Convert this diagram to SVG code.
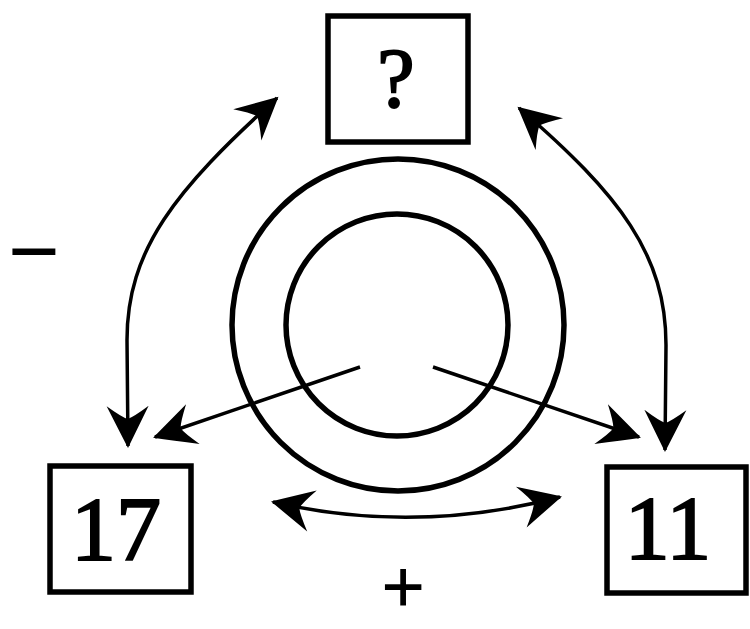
<svg xmlns="http://www.w3.org/2000/svg" width="750" height="629" viewBox="0 0 750 629">
<style>
.box{fill:#fff;stroke:#000;stroke-width:5.5}
.ring{fill:none;stroke:#000;stroke-width:5.5}
.con{fill:none;stroke:#000;stroke-width:3.5;marker-end:url(#ah)}
.dbl{marker-start:url(#ah)}
.lbl{font-family:"Liberation Serif","DejaVu Serif",serif;fill:#000;stroke:#000;stroke-width:2;text-anchor:middle}
</style>
<defs>
<marker id="ah" markerUnits="userSpaceOnUse" markerWidth="50" markerHeight="50" viewBox="-42 -25 50 50" refX="0" refY="0" orient="auto-start-reverse">
<path d="M2,0 Q-16,-9 -40,-21 Q-29,-6 -27,0 Q-29,6 -40,21 Q-16,9 2,0 Z" fill="#000"/>
</marker>
</defs>
<rect width="750" height="629" fill="#fff"/>
<g id="rings">
<circle class="ring" cx="398" cy="325" r="166"/>
<circle class="ring" cx="397" cy="325" r="111"/>
</g>
<g id="connectors">
<path class="con" d="M360,367 L155,437"/>
<path class="con" d="M433,367 L639,437"/>
<path class="con dbl" d="M277,98 C175,190 127,250 127,340 L128,446"/>
<path class="con dbl" d="M519,108 C620,195 666,255 666,345 L665,450"/>
<path class="con dbl" d="M273,502 Q415,535 560,497"/>
</g>
<g id="node-top">
<rect class="box" x="328" y="16" width="140" height="126"/>
<text class="lbl" x="396" y="107" font-size="84">?</text>
</g>
<g id="node-17">
<rect class="box" x="50" y="466" width="141" height="126"/>
<text class="lbl" x="116" y="560" font-size="90">17</text>
</g>
<g id="node-11">
<rect class="box" x="607" y="467" width="139" height="126"/>
<text class="lbl" x="668" y="559" font-size="90">11</text>
</g>
<g id="signs">
<text class="lbl" x="34" y="281" font-size="88" stroke-width="1">−</text>
<text class="lbl" x="403" y="612" font-size="74" stroke-width="1.2">+</text>
</g>
</svg>
